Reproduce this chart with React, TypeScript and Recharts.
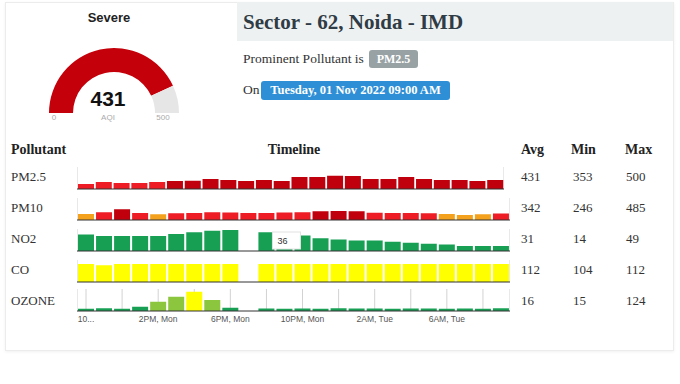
import React from 'react'
import { BarChart, Bar, XAxis, YAxis, CartesianGrid, Cell, LabelList, PieChart, Pie } from 'recharts'

// hourly timeline, 10AM Mon -> 9AM Tue
const hours = [
  '10AM, Mon', '11AM, Mon', '12PM, Mon', '1PM, Mon', '2PM, Mon', '3PM, Mon',
  '4PM, Mon', '5PM, Mon', '6PM, Mon', '7PM, Mon', '8PM, Mon', '9PM, Mon',
  '10PM, Mon', '11PM, Mon', '12AM, Tue', '1AM, Tue', '2AM, Tue', '3AM, Tue',
  '4AM, Tue', '5AM, Tue', '6AM, Tue', '7AM, Tue', '8AM, Tue', '9AM, Tue',
]

const pm25 = [353, 387, 369, 369, 387, 405, 410, 442, 424, 405, 424, 405, 478, 478, 500, 497, 442, 442, 478, 442, 424, 424, 405, 424]
const pm10 = [290, 365, 485, 330, 280, 325, 330, 360, 355, 335, 330, 350, 360, 405, 410, 405, 340, 335, 330, 320, 290, 246, 280, 310]
const no2 = [39, 36, 36, 36, 36, 40, 44, 47, 49, null, 44, 36, 37, 31, 28, 26, 26, 23, 21, 19, 17, 14, 14, 14]
const co = [112, 104, 112, 112, 112, 112, 112, 112, 112, null, 112, 112, 112, 112, 112, 112, 112, 112, 112, 112, 112, 112, 112, 112]
const ozone = [15, 17, 15, 28, 60, 92, 124, 70, 21, null, 16, 15, 16, 15, 17, 16, 16, 15, 16, 16, 15, 16, 15, 18]

// hovered point shown in the NO2 row
const hoverHour = '9PM, Mon'

const pollutants = ['PM2.5', 'PM10', 'NO2', 'CO', 'OZONE']
const avgs = [431, 342, 31, 112, 16]
const mins = [353, 246, 14, 104, 15]
const maxs = [500, 485, 49, 112, 124]

const aqi = 431
const aqiMax = 500

const RED = '#ee1c25'
const DARK = '#c0000d'
const ORANGE = '#f4a21e'
const GREEN = '#17a054'
const LIGHT = '#8cc63f'
const YELLOW = '#ffff00'

const pmBands: [number, string][] = [[400, RED], [Infinity, DARK]]
const pm10Bands: [number, string][] = [[300, ORANGE], [400, RED], [Infinity, DARK]]
const gasBands: [number, string][] = [[50, GREEN], [100, LIGHT], [Infinity, YELLOW]]

const colorFor = (v: number | null, bands: [number, string][]) => {
  if (v == null) return 'none'
  for (const [lim, c] of bands) if (v <= lim) return c
  return bands[bands.length - 1][1]
}

const SERIF = '"Liberation Serif", serif'
const SANS = '"Liberation Sans", Arial, sans-serif'

const HourTick = (props: any) => {
  const { x, y, payload } = props
  const i = hours.indexOf(payload.value)
  if (i % 4 !== 0) return <g />
  const label = i === 0 ? payload.value.slice(0, 2) + '...' : payload.value
  return (
    <text x={x} y={y} dy="0.71em" textAnchor="middle" fontSize={8.5} fill="#555" fontFamily={SANS}>
      {label}
    </text>
  )
}

const makeCallout = (values: (number | null)[]) => (props: any) => {
  const { x, y, height, value } = props
  if (value !== hoverHour) return null
  const base = y + height
  return (
    <g>
      <rect x={x - 4} y={base - 19} width={28} height={17} fill="#fff" stroke="#e2e2e2" />
      <text x={x + 6} y={base - 10.5} textAnchor="middle" dominantBaseline="central"
        fontSize={9} fill="#333" fontFamily={SANS}>{values[hours.indexOf(value)]}</text>
    </g>
  )
}

interface RowProps {
  values: (number | null)[]
  domain: [number, number]
  bands: [number, string][]
  top: number
  width: number
  ticks?: boolean
  callout?: boolean
}

function Row({ values, domain, bands, top, width, ticks, callout }: RowProps) {
  const rows = hours.map((h, i) => ({ hour: h, value: values[i] }))
  const axisH = ticks ? 18 : 2
  const Callout = makeCallout(values)
  return (
    <div style={{ position: 'absolute', left: 77, top }}>
      <BarChart width={width} height={22 + axisH} data={rows}
        margin={{ top: 0, right: 0, bottom: 0, left: 0 }} barCategoryGap={1}>
        <CartesianGrid horizontal={false} stroke="#d2d2d2" />
        <XAxis dataKey="hour" interval={1} axisLine={{ stroke: '#333' }} tickLine={false}
          tick={ticks ? <HourTick /> : false} height={axisH} tickSize={0} tickMargin={5} />
        <YAxis hide domain={domain} allowDataOverflow />
        <Bar dataKey="value" isAnimationActive={false}>
          {rows.map((r, i) => <Cell key={i} fill={colorFor(r.value, bands)} />)}
          {callout && <LabelList dataKey="hour" content={<Callout />} />}
        </Bar>
      </BarChart>
    </div>
  )
}

const Txt = ({ x, y, children, style }: any) => (
  <div style={{ position: 'absolute', left: x, top: y - 10, lineHeight: '20px', whiteSpace: 'nowrap', ...style }}>
    {children}
  </div>
)

export default function App() {
  const gauge = [{ name: 'AQI', value: aqi }, { name: 'rest', value: aqiMax - aqi }]
  const rowY = [177, 208, 239, 270, 301]

  return (
    <div style={{ position: 'absolute', left: 0, top: 0, width: 680, height: 384, background: '#fff', overflow: 'hidden' }}>
      <div style={{ position: 'absolute', left: 5, top: 2, width: 667, height: 347, border: '1px solid #ececec', boxShadow: '0 1px 3px rgba(0,0,0,0.06)' }} />
      <div style={{ position: 'absolute', left: 237, top: 2, width: 436, height: 39, background: '#eef1f2' }} />

      {/* gauge */}
      <Txt x={109} y={18} style={{ transform: 'translateX(-50%)', fontFamily: SANS, fontWeight: 700, fontSize: 13, color: '#222' }}>Severe</Txt>
      <div style={{ position: 'absolute', left: 0, top: 0 }}>
        <PieChart width={220} height={125}>
          <Pie data={gauge} dataKey="value" cx={109} cy={108} startAngle={180} endAngle={0}
            innerRadius={41} outerRadius={65} stroke="none" isAnimationActive={false}>
            <Cell fill="#c4000a" />
            <Cell fill="#e6e6e6" />
          </Pie>
        </PieChart>
      </div>
      <Txt x={108} y={99} style={{ transform: 'translateX(-50%)', fontFamily: SANS, fontWeight: 700, fontSize: 21, color: '#111' }}>{aqi}</Txt>
      <Txt x={54} y={118} style={{ transform: 'translateX(-50%)', fontFamily: SANS, fontSize: 8, color: '#aaa' }}>0</Txt>
      <Txt x={108} y={118} style={{ transform: 'translateX(-50%)', fontFamily: SANS, fontSize: 8, color: '#aaa' }}>AQI</Txt>
      <Txt x={163} y={118} style={{ transform: 'translateX(-50%)', fontFamily: SANS, fontSize: 8, color: '#aaa' }}>{aqiMax}</Txt>

      {/* station header */}
      <Txt x={243} y={22} style={{ fontFamily: SERIF, fontWeight: 700, fontSize: 21, color: '#2f3b45' }}>Sector - 62, Noida - IMD</Txt>
      <Txt x={243} y={59} style={{ fontFamily: SERIF, fontSize: 13.5, color: '#333' }}>Prominent Pollutant is</Txt>
      <div style={{ position: 'absolute', left: 369, top: 50, width: 49, height: 18, background: '#98a2a5', borderRadius: 3,
        color: '#fff', fontFamily: SERIF, fontWeight: 700, fontSize: 12, lineHeight: '18px', textAlign: 'center' }}>PM2.5</div>
      <Txt x={243} y={90} style={{ fontFamily: SERIF, fontSize: 13.5, color: '#333' }}>On</Txt>
      <div style={{ position: 'absolute', left: 261, top: 81, width: 189, height: 19, background: '#2e8fd6', borderRadius: 3,
        color: '#fff', fontFamily: SERIF, fontWeight: 700, fontSize: 12.5, lineHeight: '19px', textAlign: 'center' }}>Tuesday, 01 Nov 2022 09:00 AM</div>

      {/* table header */}
      <Txt x={11} y={150} style={{ fontFamily: SERIF, fontWeight: 700, fontSize: 14, color: '#222' }}>Pollutant</Txt>
      <Txt x={294} y={150} style={{ transform: 'translateX(-50%)', fontFamily: SERIF, fontWeight: 700, fontSize: 14, color: '#222' }}>Timeline</Txt>
      <Txt x={521} y={150} style={{ fontFamily: SERIF, fontWeight: 700, fontSize: 14, color: '#222' }}>Avg</Txt>
      <Txt x={571} y={150} style={{ fontFamily: SERIF, fontWeight: 700, fontSize: 14, color: '#222' }}>Min</Txt>
      <Txt x={625} y={150} style={{ fontFamily: SERIF, fontWeight: 700, fontSize: 14, color: '#222' }}>Max</Txt>

      {pollutants.map((p, i) => (
        <React.Fragment key={p}>
          <Txt x={11} y={rowY[i]} style={{ fontFamily: SERIF, fontSize: 13, color: '#333' }}>{p}</Txt>
          <Txt x={521} y={rowY[i]} style={{ fontFamily: SERIF, fontSize: 13, color: '#333' }}>{avgs[i]}</Txt>
          <Txt x={573} y={rowY[i]} style={{ fontFamily: SERIF, fontSize: 13, color: '#333' }}>{mins[i]}</Txt>
          <Txt x={626} y={rowY[i]} style={{ fontFamily: SERIF, fontSize: 13, color: '#333' }}>{maxs[i]}</Txt>
        </React.Fragment>
      ))}

      <Row values={pm25} domain={[260, 660]} bands={pmBands} top={167} width={427} />
      <Row values={pm10} domain={[50, 930]} bands={pm10Bands} top={198} width={433} />
      <Row values={no2} domain={[3, 51]} bands={gasBands} top={229} width={433} callout />
      <Row values={co} domain={[0, 137]} bands={gasBands} top={260} width={433} />
      <Row values={ozone} domain={[0, 141]} bands={gasBands} top={289} width={433} ticks />
    </div>
  )
}
